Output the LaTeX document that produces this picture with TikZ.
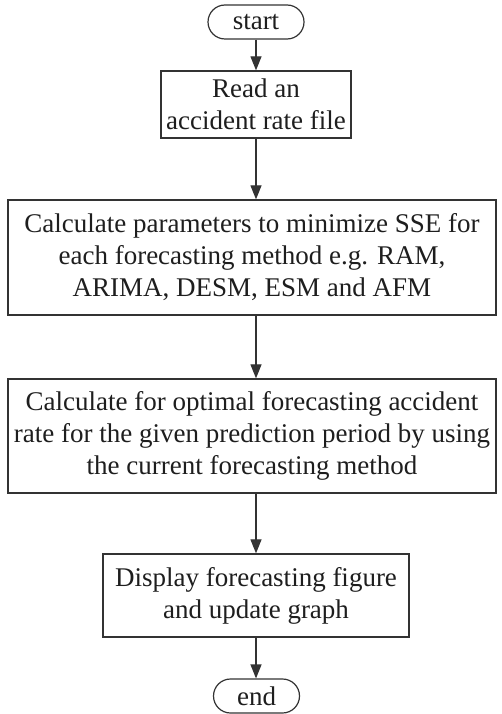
\documentclass[tikz,border=0pt]{standalone}
\usepackage{fontspec}
\setmainfont{Liberation Serif}
\usetikzlibrary{arrows.meta}
\definecolor{ln}{HTML}{333333}
\definecolor{tx}{HTML}{1E1E1E}
\begin{document}
\begin{tikzpicture}[x=1pt,y=1pt,
  every node/.style={font=\fontsize{27}{32}\selectfont, text=tx},
  boxnode/.style={draw=ln, line width=1.3pt, rectangle, align=center, inner sep=0pt},
  termnode/.style={draw=ln, line width=1.2pt, rectangle, rounded corners=17pt, align=center, inner sep=0pt, minimum height=34pt},
  flow/.style={draw=ln, line width=1.2pt, -{Triangle[width=11pt,length=14pt]}}
]
\useasboundingbox (0,0) rectangle (501,-714);
\fill[white] (0,0) rectangle (501,-714);
\node[termnode, minimum width=96pt] (start) at (256,-22) {start};
\node[boxnode, minimum width=190pt, minimum height=67pt] (read) at (256,-104.5) {Read an\\accident rate file};
\node[boxnode, minimum width=488pt, minimum height=115pt] (calc1) at (252,-257.5) {Calculate parameters to minimize SSE for\\each forecasting method e.g. RAM,\\ARIMA, DESM, ESM and AFM};
\node[boxnode, minimum width=488pt, minimum height=114pt] (calc2) at (252,-436) {Calculate for optimal forecasting accident\\rate for the given prediction period by using\\the current forecasting method};
\node[boxnode, minimum width=306pt, minimum height=83pt] (disp) at (256,-595.5) {Display forecasting figure\\and update graph};
\node[termnode, minimum width=86pt] (end) at (256.5,-696) {end};
\draw[flow] (start.south) -- (read.north);
\draw[flow] (read.south) -- (read.south |- calc1.north);
\draw[flow] (read.south |- calc1.south) -- (read.south |- calc2.north);
\draw[flow] (read.south |- calc2.south) -- (disp.north);
\draw[flow] (disp.south) -- (disp.south |- end.north);
\end{tikzpicture}
\end{document}
